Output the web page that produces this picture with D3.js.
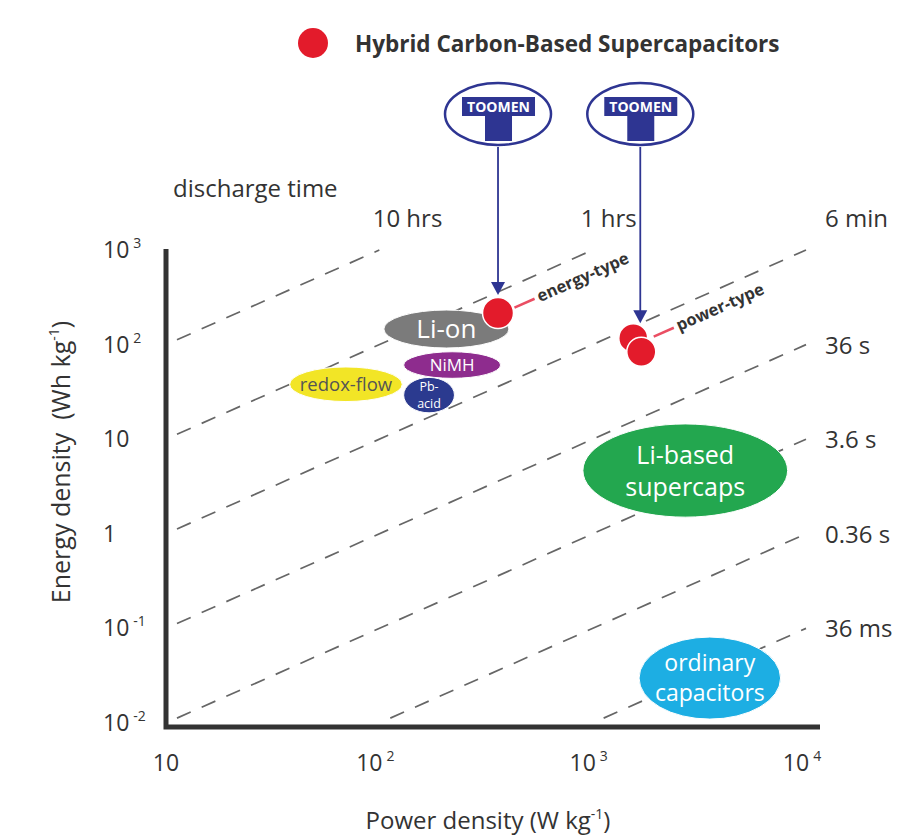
<!DOCTYPE html>
<meta charset="utf-8">
<script src="https://d3js.org/d3.v7.min.js"></script>
<style>
  body { margin: 0; background: #fff; }
  text { font-family: "Open Sans", sans-serif; fill: #333; }
</style>
<svg id="chart" width="920" height="840"></svg>
<script>
  // ticks
  const xTicks = [10, 100, 1000, 10000];
  const yTicks = [0.01, 0.1, 1, 10, 100, 1000];

  // constant discharge-time lines, E = P * t (t in hours)
  const dischargeHours = [10, 1, 0.1, 0.01, 0.001, 0.0001, 0.00001];
  const dischargeLabels = ["10 hrs", "1 hrs", "6 min", "36 s", "3.6 s", "0.36 s", "36 ms"];

  // storage technologies, ranges in W/kg and Wh/kg
  const techNames = [["Li-on"], ["NiMH"], ["redox-flow"], ["Pb-", "acid"], ["Li-based", "supercaps"], ["ordinary", "capacitors"]];
  const techPower = [[105, 405], [130, 370], [38, 128], [130, 225], [900, 8200], [1650, 7600]];
  const techEnergy = [[92, 232], [44, 84], [25, 58], [19, 45], [1.5, 14.5], [0.011, 0.081]];
  const techColors = ["#7b7b7b", "#8e2c8e", "#f2e526", "#2b3a8f", "#23a74f", "#1daee3"];

  // hybrid carbon-based supercapacitors
  const hybridNames = ["energy-type", "power-type", "power-type"];
  const hybridPower = [360, 1550, 1690];
  const hybridEnergy = [216, 117, 84];

  const svg = d3.select("#chart");

  const x = d3.scaleLog().domain([10, 10000]).range([166, 806]);
  const y = d3.scaleLog().domain([0.01, 1000]).range([723, 250]);

  // angle of the discharge lines on screen
  const slope = (y(1) - y(10)) / (x(100) - x(10));
  const angle = -Math.atan(slope) * 180 / Math.PI;

  // dashed lines
  const lines = dischargeHours.map((t, i) => {
    const p0 = Math.max(10, 0.01 / t);
    const p1 = Math.min(10000, 1000 / t);
    return { t, label: dischargeLabels[i], p0, p1 };
  });

  svg.append("g")
    .selectAll("line")
    .data(lines)
    .join("line")
    .attr("x1", d => x(d.p0))
    .attr("y1", d => y(d.p0 * d.t))
    .attr("x2", d => x(d.p1))
    .attr("y2", d => y(d.p1 * d.t))
    .attr("stroke", "#666")
    .attr("stroke-width", 1.7)
    .attr("stroke-dasharray", "15,12")
    .attr("stroke-dashoffset", 15);

  // line labels
  const topOffset = { "10 hrs": 63, "1 hrs": 44 };
  svg.append("g")
    .selectAll("text")
    .data(lines)
    .join("text")
    .attr("font-size", 24)
    .attr("text-anchor", d => topOffset[d.label] ? "end" : "start")
    .attr("x", d => topOffset[d.label] ? x(d.p1) + topOffset[d.label] : 825)
    .attr("y", d => d.p1 * d.t >= 1000 ? 227 : y(d.p1 * d.t) + 9)
    .text(d => d.label);

  svg.append("text")
    .attr("x", 173)
    .attr("y", 197)
    .attr("font-size", 24)
    .text("discharge time");

  // technology ellipses
  const techs = techNames.map((n, i) => ({
    lines: n, p: techPower[i], e: techEnergy[i], color: techColors[i]
  }));
  const fontSizes = [26, 17, 18.5, 12.5, 25, 23];
  const lineGaps = [0, 0, 0, 17, 32, 30];

  const tg = svg.append("g")
    .selectAll("g")
    .data(techs)
    .join("g");

  tg.append("ellipse")
    .attr("cx", d => (x(d.p[0]) + x(d.p[1])) / 2)
    .attr("cy", d => (y(d.e[0]) + y(d.e[1])) / 2)
    .attr("rx", d => (x(d.p[1]) - x(d.p[0])) / 2)
    .attr("ry", d => (y(d.e[0]) - y(d.e[1])) / 2)
    .attr("fill", d => d.color)
    .attr("stroke", "#fff")
    .attr("stroke-width", 1);

  // one text per ellipse, lines as tspans
  tg.each(function (d, i) {
    const cx = (x(d.p[0]) + x(d.p[1])) / 2;
    const cy = (y(d.e[0]) + y(d.e[1])) / 2;
    const fs = fontSizes[i];
    const n = d.lines.length;
    const t = d3.select(this).append("text")
      .attr("text-anchor", "middle")
      .attr("font-size", fs)
      .style("fill", i === 2 ? "#555" : "#fff");
    t.selectAll("tspan")
      .data(d.lines)
      .join("tspan")
      .attr("x", cx)
      .attr("y", (s, j) => cy + (j - (n - 1) / 2) * lineGaps[i] + fs * 0.36)
      .text(s => s);
  });

  // hybrid points
  const hybrids = hybridNames.map((n, i) => ({
    name: n, cx: x(hybridPower[i]), cy: y(hybridEnergy[i])
  }));

  const ux = Math.cos(Math.atan(slope)), uy = -Math.sin(Math.atan(slope));
  // energy label hangs off its dot, power label off the middle of the pair
  const labelled = [
    { name: hybrids[0].name, cx: hybrids[0].cx, cy: hybrids[0].cy + 2 },
    { name: hybrids[1].name, cx: (hybrids[1].cx + hybrids[2].cx) / 2, cy: (hybrids[1].cy + hybrids[2].cy) / 2 - 1 }
  ];

  svg.append("g")
    .selectAll("line")
    .data(labelled)
    .join("line")
    .attr("x1", d => d.cx + ux * 18)
    .attr("y1", d => d.cy + uy * 18)
    .attr("x2", d => d.cx + ux * 40)
    .attr("y2", d => d.cy + uy * 40)
    .attr("stroke", "#ea4e63")
    .attr("stroke-width", 2.5);

  svg.append("g")
    .selectAll("text")
    .data(labelled)
    .join("text")
    .attr("transform", d => `translate(${d.cx + ux * 46},${d.cy + uy * 46 + 6}) rotate(${angle})`)
    .attr("font-size", 16.5)
    .attr("font-weight", "bold")
    .text(d => d.name);

  svg.append("g")
    .selectAll("circle")
    .data(hybrids)
    .join("circle")
    .attr("cx", d => d.cx)
    .attr("cy", d => d.cy)
    .attr("r", (d, i) => i === 0 ? 15.5 : 14.5)
    .attr("fill", "#e31b2b")
    .attr("stroke", "#fff")
    .attr("stroke-width", 1.5);

  // logos and arrows
  const navy = "#2e3592";
  const logos = [
    { x: hybrids[0].cx, tip: hybrids[0].cy - 18 },
    { x: (hybrids[1].cx + hybrids[2].cx) / 2 + 3, tip: hybrids[1].cy - 15 }
  ];
  const logoY = 114;

  const lg = svg.append("g")
    .selectAll("g")
    .data(logos)
    .join("g");

  lg.append("line")
    .attr("x1", d => d.x)
    .attr("x2", d => d.x)
    .attr("y1", logoY + 33)
    .attr("y2", d => d.tip - 10)
    .attr("stroke", navy)
    .attr("stroke-width", 1.8);

  lg.append("path")
    .attr("d", d => `M${d.x - 7},${d.tip - 13} L${d.x + 7},${d.tip - 13} L${d.x},${d.tip} Z`)
    .attr("fill", navy);

  lg.append("ellipse")
    .attr("cx", d => d.x)
    .attr("cy", logoY)
    .attr("rx", 53)
    .attr("ry", 31)
    .attr("fill", "#fff")
    .attr("stroke", navy)
    .attr("stroke-width", 2.5);

  lg.append("path")
    .attr("d", d => `M${d.x - 36},${logoY - 17} h73 v19 h-23 v25 h-27 v-25 h-23 Z`)
    .attr("fill", navy);

  lg.append("text")
    .attr("x", d => d.x + 0.5)
    .attr("y", logoY - 2.5)
    .attr("text-anchor", "middle")
    .attr("font-size", 14)
    .attr("font-weight", "bold")
    .style("fill", "#fff")
    .text("TOOMEN");

  // axes
  svg.append("path")
    .attr("d", `M${x(10)},${y(1000) - 1} V${y(0.01) + 4} H${x(10000) + 14}`)
    .attr("fill", "none")
    .attr("stroke", "#333")
    .attr("stroke-width", 5);

  function tickText(sel, v) {
    const e = Math.round(Math.log10(v));
    if (e === 0 || e === 1) {
      sel.text(String(v));
    } else {
      sel.append("tspan").text("10");
      sel.append("tspan").attr("font-size", 14).attr("dx", 4).attr("dy", -10).text(String(e));
    }
  }

  svg.append("g")
    .selectAll("text")
    .data(yTicks)
    .join("text")
    .attr("x", 103)
    .attr("y", d => y(d) + 8)
    .attr("font-size", 23)
    .each(function (d) { tickText(d3.select(this), d); });

  svg.append("g")
    .selectAll("text")
    .data(xTicks)
    .join("text")
    .attr("x", d => d === 10 ? x(d) : x(d) - 4)
    .attr("y", 771)
    .attr("text-anchor", "middle")
    .attr("font-size", 23)
    .each(function (d) { tickText(d3.select(this), d); });

  // axis titles
  const yTitle = svg.append("text")
    .attr("transform", "translate(70,462) rotate(-90)")
    .attr("text-anchor", "middle")
    .attr("font-size", 25)
    .style("white-space", "pre");
  yTitle.append("tspan").text("Energy density  (Wh kg");
  yTitle.append("tspan").attr("font-size", 14).attr("dy", -11).text("-1");
  yTitle.append("tspan").attr("dy", 11).text(")");

  const xTitle = svg.append("text")
    .attr("x", 488)
    .attr("y", 829)
    .attr("text-anchor", "middle")
    .attr("font-size", 24);
  xTitle.append("tspan").text("Power density (W kg");
  xTitle.append("tspan").attr("font-size", 14).attr("dy", -10).text("-1");
  xTitle.append("tspan").attr("dy", 10).text(")");

  // legend
  svg.append("circle")
    .attr("cx", 313)
    .attr("cy", 43)
    .attr("r", 15)
    .attr("fill", "#e31b2b");

  svg.append("text")
    .attr("x", 355)
    .attr("y", 52)
    .attr("font-size", 22.5)
    .attr("font-weight", "bold")
    .text("Hybrid Carbon-Based Supercapacitors");
</script>
